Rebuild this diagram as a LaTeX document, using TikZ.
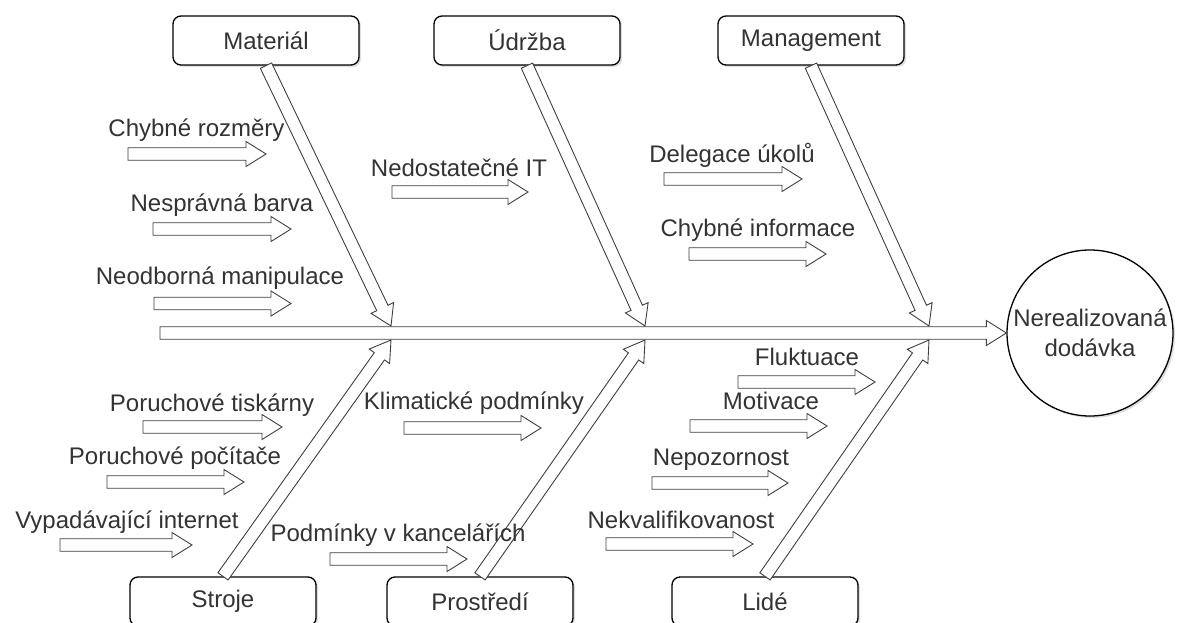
\documentclass[tikz,border=0pt]{standalone}
\usepackage{fontspec}
\setmainfont{Liberation Sans}
\usetikzlibrary{calc,shadows}
\def\fatw{6.25pt}
\def\fath{12.5pt}
\def\fatl{20pt}
\tikzset{
  fat/.style={draw=black!75, fill=white, line width=0.9pt, line join=miter,
    to path={
      ($(\tikztostart)!\fatw!-90:(\tikztotarget)$)
      -- ($(\tikztotarget)!\fatl!(\tikztostart)!\fatw!90:(\tikztostart)$)
      -- ($(\tikztotarget)!\fatl!(\tikztostart)!\fath!90:(\tikztostart)$)
      -- (\tikztotarget)
      -- ($(\tikztotarget)!\fatl!(\tikztostart)!\fath!-90:(\tikztostart)$)
      -- ($(\tikztotarget)!\fatl!(\tikztostart)!\fatw!-90:(\tikztostart)$)
      -- ($(\tikztostart)!\fatw!90:(\tikztotarget)$)
      -- cycle}},
  cat/.style={draw=black, line width=1.3pt, rounded corners=8pt, fill=white,
    minimum width=186pt, minimum height=49pt, inner sep=0pt,
    text=black!80, font=\fontsize{24}{29}\selectfont,
    drop shadow={opacity=0.25, shadow xshift=2pt, shadow yshift=-2pt}},
  lab/.style={text=black!80, inner sep=0pt, font=\fontsize{24}{29}\selectfont},
  effect/.style={circle, draw=black, line width=1.3pt, fill=white,
    minimum size=166pt, inner sep=0pt, align=center,
    text=black!80, font=\fontsize{24}{30}\selectfont,
    drop shadow={opacity=0.25, shadow xshift=2pt, shadow yshift=-2pt}}
}
\begin{document}
\begin{tikzpicture}[x=1pt, y=-1pt]
\clip (0,0) rectangle (1178,623);
\fill[white] (0,0) rectangle (1178,623);

% effect and spine
\node[effect] (eff) at (1090,333) {Nerealizovaná\\dodávka};
\coordinate (sp0) at (160,333);
\draw[fat] (sp0) to (eff.west);

% category boxes
\node[cat] (mat) at (266,40.5) {Materiál};
\node[cat] (udr) at (527,40.5) {Údržba};
\node[cat] (man) at (811,40.5) {Management};
\node[cat] (str) at (223,601.5) {Stroje};
\node[cat] (pro) at (480,601.5) {Prostředí};
\node[cat] (lid) at (765,601.5) {Lidé};

% tips on the spine
\coordinate (t1) at (391,326);
\coordinate (t2) at (645,326);
\coordinate (t3) at (929,326);
\coordinate (b1) at (391,340);
\coordinate (b2) at (645,340);
\coordinate (b3) at (929,340);

\draw[fat] (mat.south) to (t1);
\draw[fat] (udr.south) to (t2);
\draw[fat] (man.south) to (t3);
\draw[fat] (str.north) to (b1);
\draw[fat] (pro.north) to (b2);
\draw[fat] (lid.north) to (b3);

% causes: Materiál
\node[lab] (c1) at (196.5,130) {Chybné rozměry};
\coordinate (c1s) at (128,154); \coordinate (c1e) at (266,154);
\draw[fat] (c1s) to (c1e);
\node[lab] (c2) at (222,205) {Nesprávná barva};
\coordinate (c2s) at (153,229); \coordinate (c2e) at (291,229);
\draw[fat] (c2s) to (c2e);
\node[lab] (c3) at (220,278) {Neodborná manipulace};
\coordinate (c3s) at (154,303.5); \coordinate (c3e) at (291,303.5);
\draw[fat] (c3s) to (c3e);

% Údržba
\node[lab] (c4) at (459,168) {Nedostatečné IT};
\coordinate (c4s) at (392,192); \coordinate (c4e) at (528,192);
\draw[fat] (c4s) to (c4e);

% Management
\node[lab] (c5) at (732,155) {Delegace úkolů};
\coordinate (c5s) at (664,179); \coordinate (c5e) at (802,179);
\draw[fat] (c5s) to (c5e);
\node[lab] (c6) at (758,230) {Chybné informace};
\coordinate (c6s) at (689,254); \coordinate (c6e) at (826,254);
\draw[fat] (c6s) to (c6e);

% Lidé
\node[lab] (c7) at (807,357) {Fluktuace};
\coordinate (c7s) at (738,382); \coordinate (c7e) at (875,382);
\draw[fat] (c7s) to (c7e);
\node[lab] (c8) at (771,401) {Motivace};
\coordinate (c8s) at (690,426); \coordinate (c8e) at (827,426);
\draw[fat] (c8s) to (c8e);
\node[lab] (c9) at (721,460) {Nepozornost};
\coordinate (c9s) at (652,483); \coordinate (c9e) at (788,483);
\draw[fat] (c9s) to (c9e);
\node[lab] (c10) at (681,520) {Nekvalifikovanost};
\coordinate (c10s) at (606,544); \coordinate (c10e) at (753,544);
\draw[fat] (c10s) to (c10e);

% Stroje
\node[lab] (c11) at (212,405) {Poruchové tiskárny};
\coordinate (c11s) at (143,427); \coordinate (c11e) at (282,427);
\draw[fat] (c11s) to (c11e);
\node[lab] (c12) at (175,458) {Poruchové počítače};
\coordinate (c12s) at (107,482); \coordinate (c12e) at (244,482);
\draw[fat] (c12s) to (c12e);
\node[lab] (c13) at (127,522) {Vypadávající internet};
\coordinate (c13s) at (60,545); \coordinate (c13e) at (192,545);
\draw[fat] (c13s) to (c13e);

% Prostředí
\node[lab] (c14) at (474,403) {Klimatické podmínky};
\coordinate (c14s) at (404,428); \coordinate (c14e) at (541,428);
\draw[fat] (c14s) to (c14e);
\node[lab] (c15) at (398,535) {Podmínky v kancelářích};
\coordinate (c15s) at (330,559); \coordinate (c15e) at (467,559);
\draw[fat] (c15s) to (c15e);
\end{tikzpicture}
\end{document}
